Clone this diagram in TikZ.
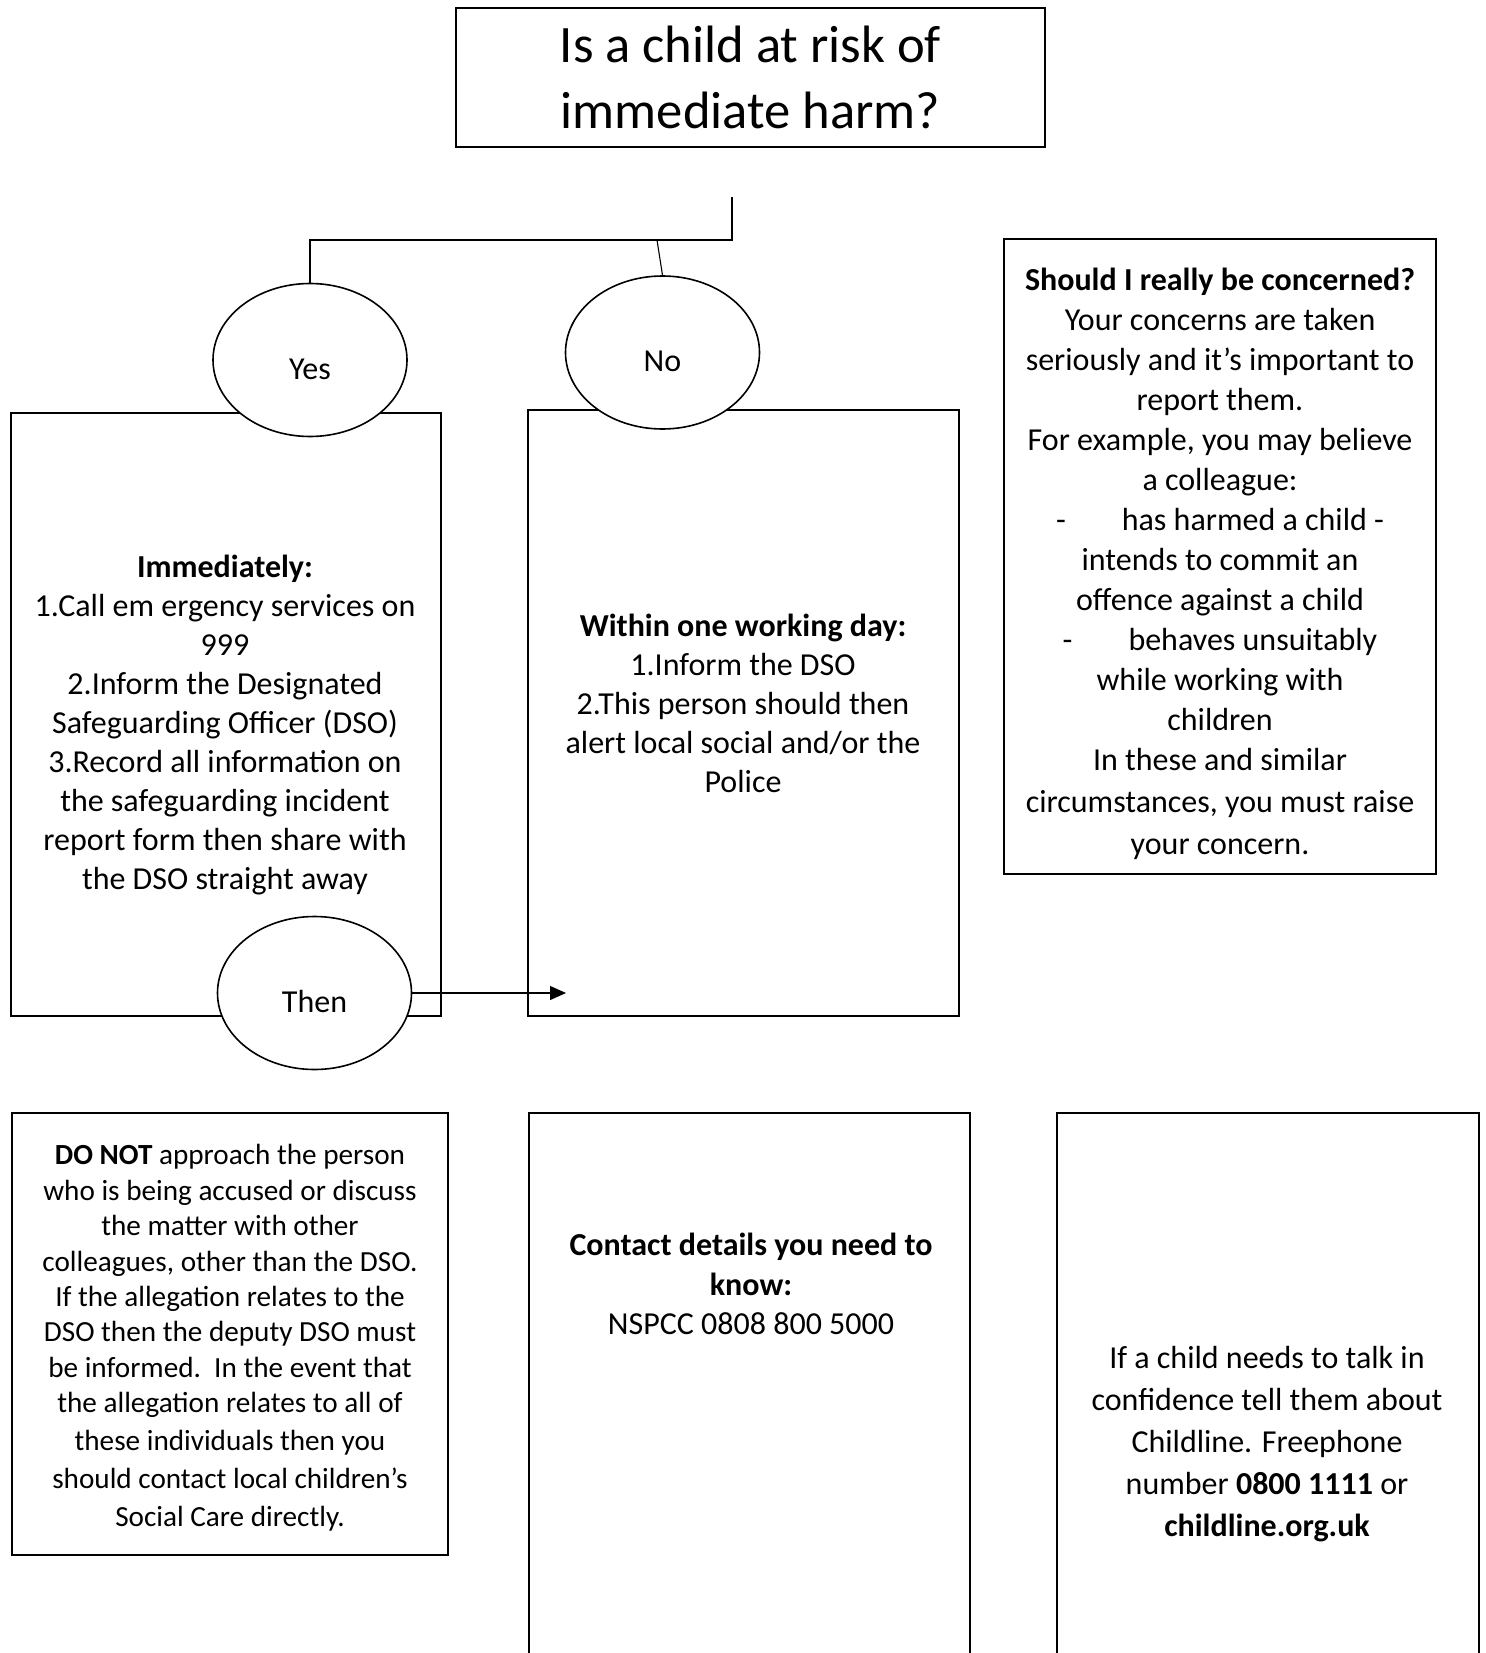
\documentclass[tikz,border=0pt]{standalone}
\usepackage{fontspec}
\setmainfont{Carlito}
\usetikzlibrary{shapes.geometric, arrows.meta, positioning}
\tikzset{
  base/.style={draw=black, align=center, inner sep=0pt},
  panel/.style={base, rectangle, line width=1.1pt, minimum width=215pt},
  bubble/.style={base, ellipse, fill=white, line width=0.8pt,
                 minimum width=97pt, minimum height=76.5pt,
                 text height=19pt, text depth=0pt,
                 font=\fontsize{16}{19.5}\selectfont},
  txt/.style={align=center, inner sep=0pt, font=\fontsize{16}{19.5}\selectfont},
  link/.style={line width=0.55pt},
  arr/.style={-{Triangle[length=8pt, width=7pt]}, line width=0.6pt},
}

\begin{document}
\begin{tikzpicture}[x=0.5pt, y=-0.5pt]
  \useasboundingbox (0,0) rectangle (1485,1653);
  \clip (0,0) rectangle (1485,1653);

  % question
  \node[base, line width=1.2pt, minimum width=294.5pt, minimum height=69.5pt,
        font=\fontsize{26.3}{33}\selectfont] (question) at (750.5,77.5)
        {Is a child at risk of\\immediate harm?};

  % panels
  \node[panel, minimum height=301.5pt] (now) at (226,714.5) {};
  \node[panel, minimum width=215.5pt, minimum height=303pt] (later) at (743.5,713) {};
  \node[panel, minimum width=216pt, minimum height=317.5pt] (concern) at (1220,556.5) {};
  \node[panel, minimum width=218pt, minimum height=221pt] (donot) at (230,1334) {};
  \node[panel, minimum width=220.5pt, minimum height=300pt] (contact) at (749.5,1413) {};
  \node[panel, minimum width=211pt, minimum height=300pt] (childline) at (1268,1413) {};

  % panel texts
  \node[txt] (nowtext) at (225,725.5) {\textbf{Immediately:}\\
    1.Call em ergency services on\\999\\2.Inform the Designated\\
    Safeguarding Officer (DSO)\\3.Record all information on\\
    the safeguarding incident\\report form then share with\\
    the DSO straight away};
  \node[txt] (latertext) at (743,703) {\textbf{Within one working day:}\\
    1.Inform the DSO\\2.This person should then\\
    alert local social and/or the\\Police};
  \node[txt, font=\fontsize{16}{20}\selectfont] (concerntext) at (1220,564)
    {\textbf{Should I really be concerned?}\\
    Your concerns are taken\\seriously and it’s important to\\report them.\\
    For example, you may believe\\a colleague:\\
    -\hspace{28pt}has harmed a child -\\intends to commit an\\
    offence against a child\\-\hspace{28pt}behaves unsuitably\\
    while working with\\children\\In these and similar\\[1pt]
    circumstances, you must raise\\[1pt]your concern.};
  \node[txt, font=\fontsize{14.6}{17.7}\selectfont] (donottext) at (230,1338)
    {\textbf{DO NOT} approach the person\\who is being accused or discuss\\
    the matter with other\\colleagues, other than the DSO.\\
    If the allegation relates to the\\DSO then the deputy DSO must\\
    be informed.\ \ In the event that\\the allegation relates to all of\\[1.3pt]
    these individuals then you\\[1.3pt]should contact local children’s\\[1.3pt]
    Social Care directly.};
  \node[txt, font=\fontsize{16}{19.7}\selectfont] (contacttext) at (751,1284)
    {\textbf{Contact details you need to}\\\textbf{know:}\\NSPCC 0808 800 5000};
  \node[txt, font=\fontsize{16}{21}\selectfont] (childlinetext) at (1267,1444)
    {If a child needs to talk in\\confidence tell them about\\
    Childline. Freephone\\number \textbf{0800 1111} or\\\textbf{childline.org.uk}};

  % answers
  \node[bubble] (yes) at (310,360) {Yes};
  \node[bubble] (no) at (662.5,352.5) {No};
  \node[bubble] (then) at (314.5,993) {Then};

  % connectors
  \coordinate (fork) at (732,197);
  \coordinate (split) at (732,240);
  \coordinate (tee) at (657,240);
  \coordinate (arrowtip) at (566,993);
  \draw[link] (fork) -- (split) -| (yes.north);
  \draw[link] (tee) -- (no.north);
  \draw[arr] (then.east) -- (arrowtip);
\end{tikzpicture}
\end{document}
